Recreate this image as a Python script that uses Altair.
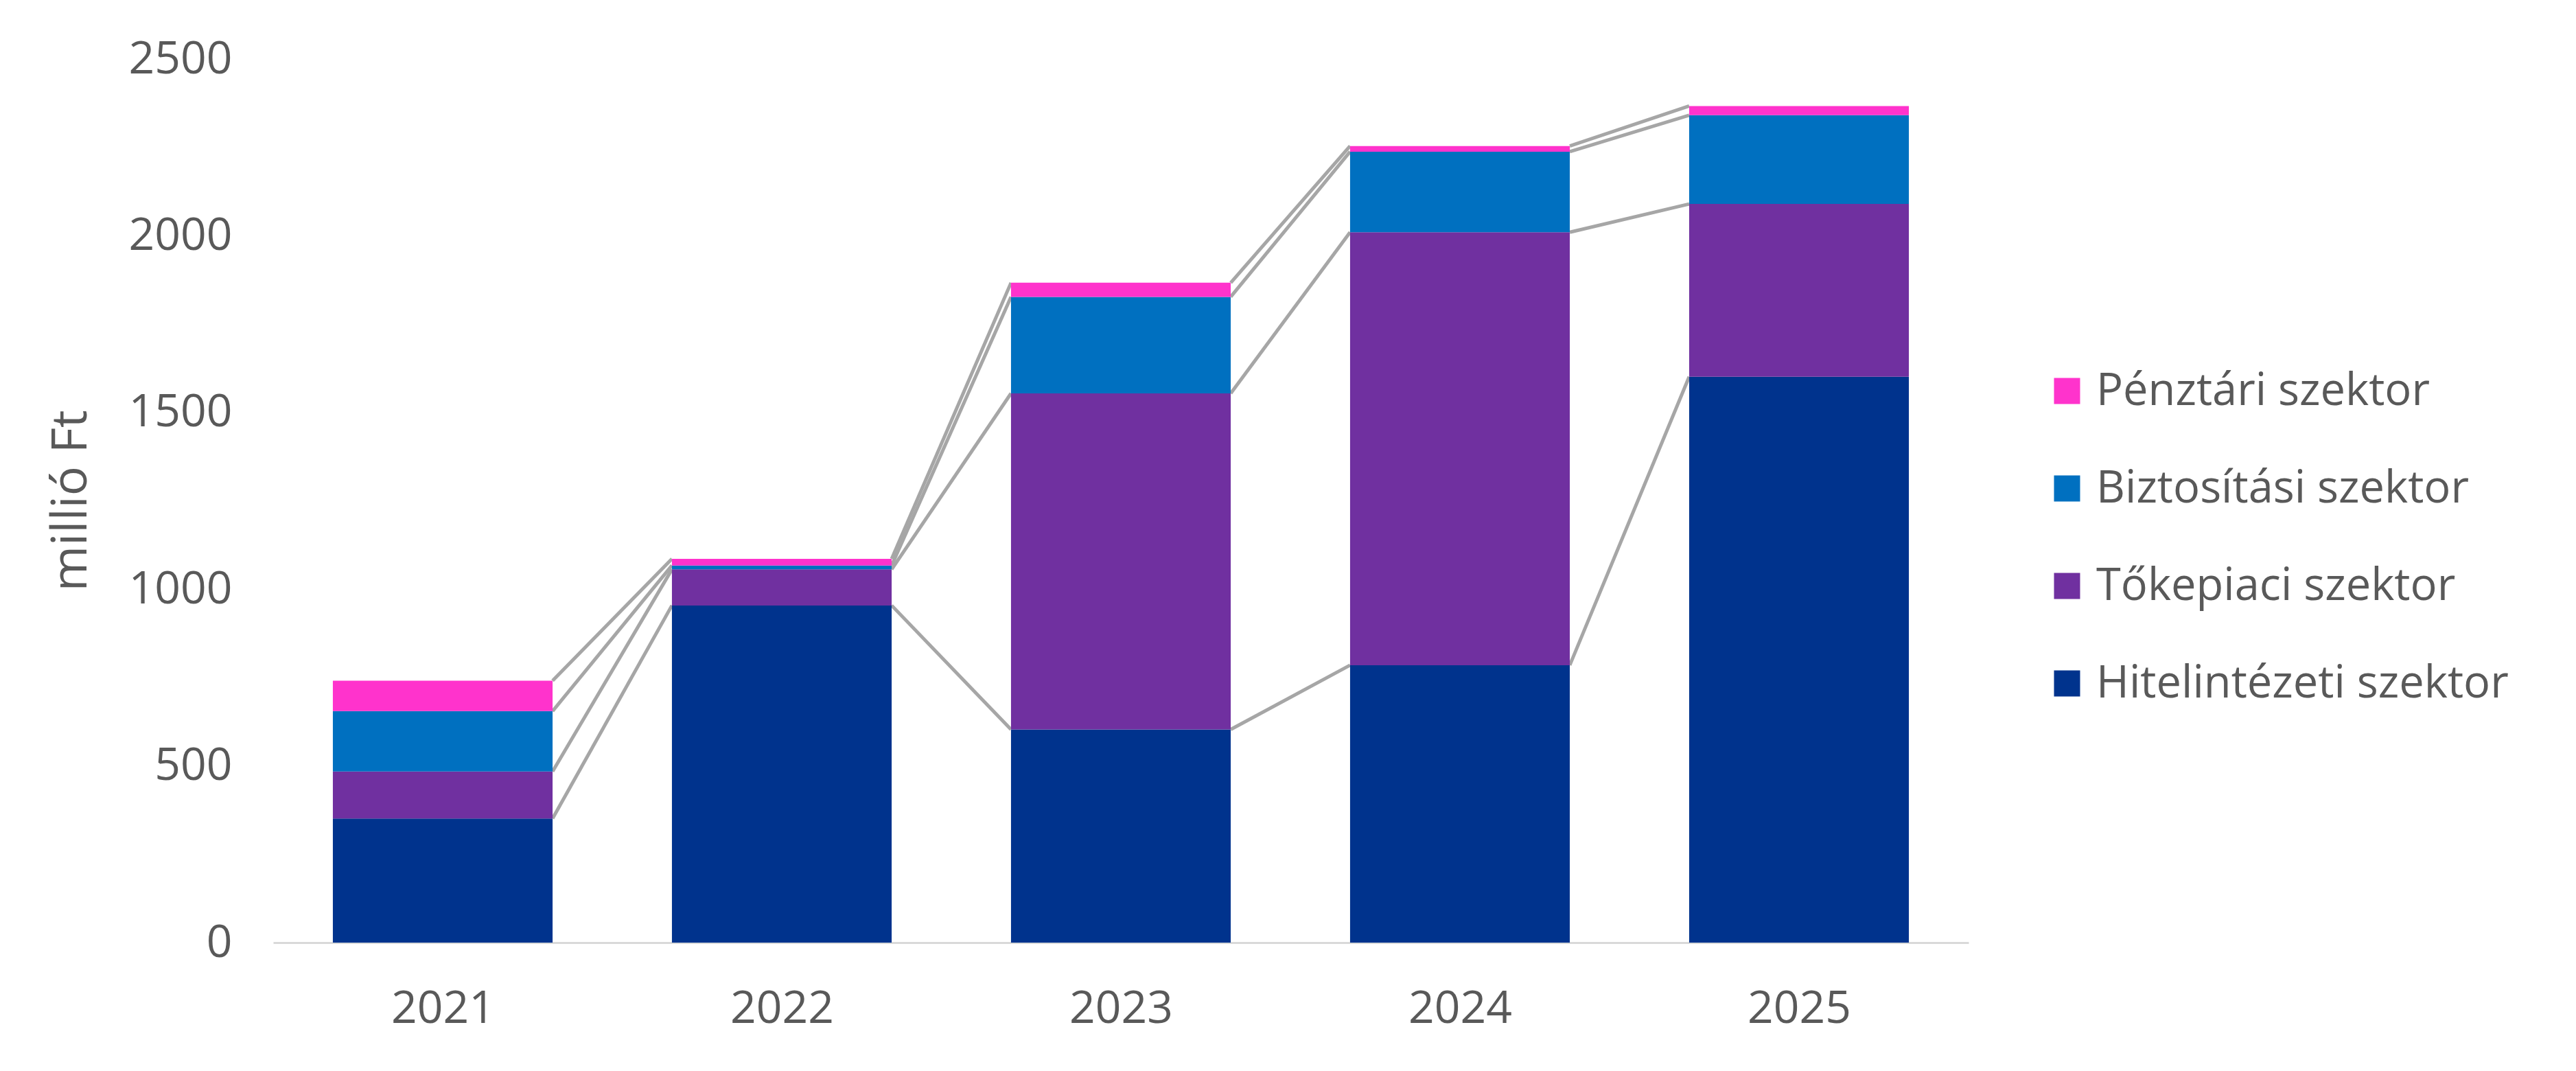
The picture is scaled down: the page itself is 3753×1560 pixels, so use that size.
import altair as alt
import pandas as pd

years = [2021, 2022, 2023, 2024, 2025]
series_names = ["Hitelintézeti szektor", "Tőkepiaci szektor", "Biztosítási szektor", "Pénztári szektor"]
hitel = [351, 954, 603, 785, 1601]
toke = [133, 102, 951, 1225, 489]
bizt = [171, 11, 273, 228, 251]
penz = [86, 19, 40, 16, 26]
legend_order = ["Pénztári szektor", "Biztosítási szektor", "Tőkepiaci szektor", "Hitelintézeti szektor"]
colors = ["#FF33CC", "#0070C0", "#7030A0", "#00338D"]
y_ticks = [0, 500, 1000, 1500, 2000, 2500]

HALF = 0.324  # half bar width in year units
FONT = "Open Sans"
TXT = "#595959"

values = [hitel, toke, bizt, penz]

# stacked rectangles
rows = []
for i, yr in enumerate(years):
    base = 0
    for s, name in enumerate(series_names):
        v = values[s][i]
        rows.append({"year": yr, "series": name, "y0": base, "y1": base + v, "value": v})
        base += v
bars_df = pd.DataFrame(rows)

# connector segments (series lines)
seg = []
for s, name in enumerate(series_names):
    for i in range(len(years) - 1):
        top_a = sum(values[k][i] for k in range(s + 1))
        top_b = sum(values[k][i + 1] for k in range(s + 1))
        seg.append({"series": name, "xa": years[i], "xb": years[i + 1], "ya": top_a, "yb": top_b})
seg_df = pd.DataFrame(seg)

xscale = alt.Scale(domain=[2020.5, 2025.5], nice=False, zero=False)
yscale = alt.Scale(domain=[0, 2500], nice=False)

lines = alt.Chart(seg_df).transform_calculate(
    x1=f"datum.xa + {HALF}", x2=f"datum.xb - {HALF}"
).mark_rule(color="#A6A6A6", strokeWidth=5).encode(
    x=alt.X("x1:Q", scale=xscale),
    x2="x2:Q",
    y=alt.Y("ya:Q", scale=yscale),
    y2="yb:Q",
)

bars = alt.Chart(bars_df).transform_calculate(
    xl=f"datum.year - {HALF}", xr=f"datum.year + {HALF}"
).mark_rect().encode(
    x=alt.X("xl:Q", scale=xscale,
            axis=alt.Axis(values=years, format="d", title=None, grid=False, ticks=False,
                          domainColor="#D9D9D9", domainWidth=3, labelFont=FONT, labelFontSize=66,
                          labelColor=TXT, labelPadding=64)),
    x2="xr:Q",
    y=alt.Y("y0:Q", scale=yscale,
            axis=alt.Axis(values=y_ticks, format="d", title="millió Ft", grid=False, ticks=False,
                          domain=False, labelFont=FONT, labelFontSize=66, labelColor=TXT, labelPadding=60,
                          titleFont=FONT, titleFontSize=72, titleFontWeight="normal", titleColor=TXT,
                          titleX=-295, titleY=643, titleAngle=-90, titleBaseline="middle", titleAlign="center")),
    y2="y1:Q",
    color=alt.Color("series:N", scale=alt.Scale(domain=legend_order, range=colors),
                    legend=alt.Legend(title=None, orient="none", legendX=2581, legendY=451,
                                      symbolType="square", symbolSize=1444, symbolStrokeWidth=0,
                                      labelFont=FONT, labelFontSize=65, labelColor=TXT,
                                      labelOffset=10, rowPadding=76, labelLimit=1000)),
)

chart = alt.layer(lines, bars).properties(
    width=2470, height=1287, background="white",
    padding={"left": 59, "top": 45, "right": 10, "bottom": 10}
).configure_view(stroke="transparent", strokeWidth=0)

chart.save("out.html", embed_options={"renderer": "svg", "actions": False})
